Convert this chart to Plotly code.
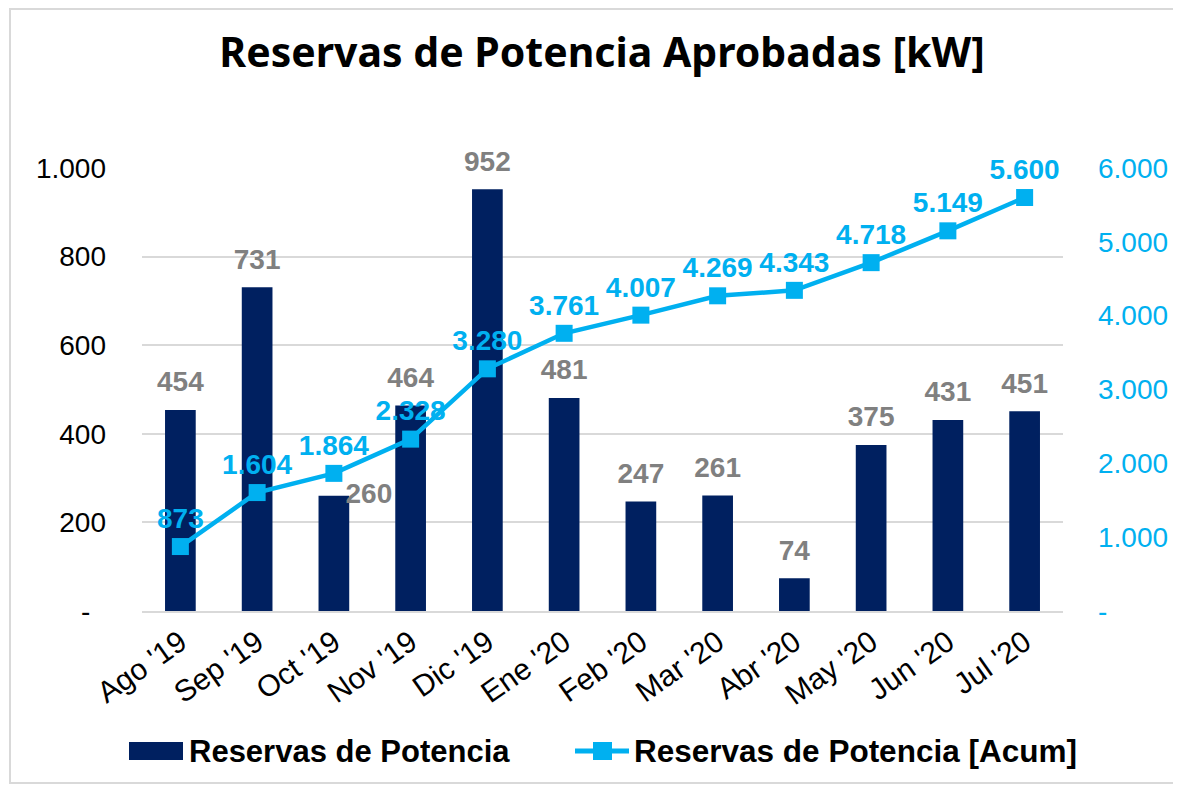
import plotly.graph_objects as go

months = ["Ago '19", "Sep '19", "Oct '19", "Nov '19", "Dic '19", "Ene '20",
          "Feb '20", "Mar '20", "Abr '20", "May '20", "Jun '20", "Jul '20"]
reservas = [454, 731, 260, 464, 952, 481, 247, 261, 74, 375, 431, 451]
acumulado = [873, 1604, 1864, 2328, 3280, 3761, 4007, 4269, 4343, 4718, 5149, 5600]

left_ticks = [0, 200, 400, 600, 800, 1000]
left_labels = ["-\u00a0\u00a0", "200", "400", "600", "800", "1.000"]
right_ticks = [0, 1000, 2000, 3000, 4000, 5000, 6000]
right_labels = ["-", "1.000", "2.000", "3.000", "4.000", "5.000", "6.000"]

name_bar = "Reservas de Potencia"
name_line = "Reservas de Potencia [Acum]"
title_text = "Reservas de Potencia Aprobadas [kW]"

NAVY = "#002060"
CYAN = "#00B0F0"
GREY = "#808080"
GRID = "#D9D9D9"

# page body margin offsets the figure by 8px
OFF = 8
W, H = 1181 - OFF, 786 - OFF
L, T = 142 - OFF, 168 - OFF
PW, PH = 921, 443
R, B = W - L - PW, H - T - PH


def px(x):
    """screen x (reference pixels) -> paper coordinate"""
    return (x - OFF - L) / PW


def py(y):
    """screen y (reference pixels) -> paper coordinate"""
    return (H - B - (y - OFF)) / PH


def fmt(v):
    return f"{v:,}".replace(",", ".")


# label placement (the Oct '19 label sits to the right of its bar top)
bar_label_pos = ["middle right" if m == "Oct '19" else "top center" for m in months]

fig = go.Figure()
fig.add_trace(go.Bar(
    x=months, y=reservas, name=name_bar,
    marker=dict(color=NAVY, line=dict(width=0)),
    yaxis="y", showlegend=False,
))
# bar value labels
fig.add_trace(go.Scatter(
    x=months, y=reservas, mode="markers+text",
    marker=dict(size=17, opacity=0),
    text=[fmt(v) for v in reservas], textposition=bar_label_pos,
    textfont=dict(family="Liberation Sans", size=28, color=GREY, weight="bold"),
    cliponaxis=False, yaxis="y", showlegend=False, hoverinfo="skip",
))
fig.add_trace(go.Scatter(
    x=months, y=acumulado, name=name_line,
    mode="lines+markers+text",
    line=dict(color=CYAN, width=4.5),
    marker=dict(symbol="square", size=17, color=CYAN),
    text=[fmt(v) for v in acumulado], textposition="top center",
    textfont=dict(family="Liberation Sans", size=28, color=CYAN, weight="bold"),
    cliponaxis=False, yaxis="y2", showlegend=False,
))

fig.update_layout(
    width=W, height=H,
    paper_bgcolor="white", plot_bgcolor="white",
    margin=dict(l=L, r=R, t=T, b=B, autoexpand=False),
    bargap=0.6,
    title=dict(text="<b>" + title_text + "</b>",
               x=(602 - OFF) / W, xanchor="center", y=1 - (53 - OFF) / H, yanchor="middle",
               font=dict(family="Noto Sans", size=41, color="black")),
    xaxis=dict(range=[-0.5, len(months) - 0.5],
               tickangle=-35, tickfont=dict(family="Liberation Sans", size=30, color="black"),
               showgrid=False, showline=True, linecolor=GRID, linewidth=2,
               ticks="", automargin=False),
    yaxis=dict(range=[0, 1000], tickvals=left_ticks, ticktext=left_labels,
               tickfont=dict(family="Liberation Sans", size=28, color="black"),
               showgrid=True, gridcolor=GRID, gridwidth=2, zeroline=False,
               showline=False, ticks="", ticklabelstandoff=35, automargin=False),
    yaxis2=dict(range=[0, 6000], tickvals=right_ticks, ticktext=right_labels,
                overlaying="y", side="right",
                tickfont=dict(family="Liberation Sans", size=28, color=CYAN),
                showgrid=False, zeroline=False, showline=False, ticks="",
                ticklabelstandoff=34, automargin=False),
    showlegend=False,
)

# outer chart border
fig.add_shape(type="rect", xref="paper", yref="paper",
              x0=px(10), x1=px(1178), y0=py(783), y1=py(9),
              line=dict(color=GRID, width=2), fillcolor="rgba(0,0,0,0)", layer="below")

# legend (drawn manually to match the wide swatches)
LEG_Y = 751
fig.add_shape(type="rect", xref="paper", yref="paper",
              x0=px(129), x1=px(183), y0=py(760), y1=py(742),
              line=dict(width=0), fillcolor=NAVY)
fig.add_annotation(xref="paper", yref="paper", x=px(187), y=py(LEG_Y),
                   xanchor="left", yanchor="middle", showarrow=False,
                   text="<b>" + name_bar + "</b>",
                   font=dict(family="Liberation Sans", size=31, color="black"))
fig.add_shape(type="line", xref="paper", yref="paper",
              x0=px(575), x1=px(629), y0=py(LEG_Y), y1=py(LEG_Y),
              line=dict(color=CYAN, width=5))
fig.add_shape(type="rect", xref="paper", yref="paper",
              x0=px(593), x1=px(612), y0=py(LEG_Y + 9), y1=py(LEG_Y - 9),
              line=dict(width=0), fillcolor=CYAN)
fig.add_annotation(xref="paper", yref="paper", x=px(632), y=py(LEG_Y),
                   xanchor="left", yanchor="middle", showarrow=False,
                   text="<b>" + name_line + "</b>",
                   font=dict(family="Liberation Sans", size=31.5, color="black"))

fig.write_html("out.html")
